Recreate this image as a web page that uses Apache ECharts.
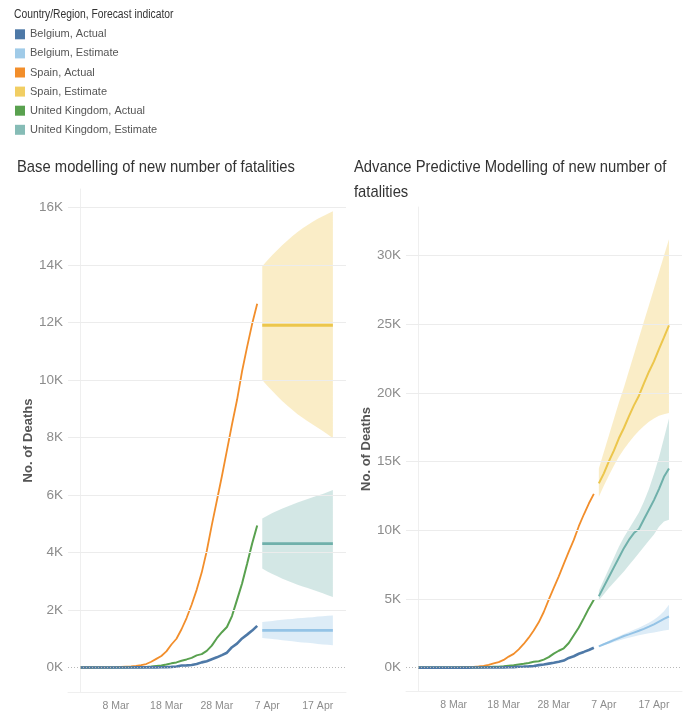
<!DOCTYPE html>
<html>
<head>
<meta charset="utf-8">
<script src="https://cdn.jsdelivr.net/npm/echarts@6/dist/echarts.min.js"></script>
<style>
  html, body { margin: 0; padding: 0; background: #fff; }
  #chart { width: 693px; height: 716px; }
</style>
</head>
<body>
<div id="chart"></div>
<script>
// Day index: 0 = 1 Mar 2020
const actualDays = [0, 1, 2, 3, 4, 5, 6, 7, 8, 9, 10, 11, 12, 13, 14, 15, 16, 17, 18, 19, 20,
  21, 22, 23, 24, 25, 26, 27, 28, 29, 30, 31, 32, 33, 34, 35];
const estimateDays = [36, 37, 38, 39, 40, 41, 42, 43, 44, 45, 46, 47, 48, 49, 50];

// Cumulative deaths, actual
const spainActual = [0, 0, 0, 1, 2, 3, 5, 10, 17, 28, 35, 54, 84, 120, 200, 300, 400, 560, 800, 1000,
  1330, 1720, 2180, 2700, 3300, 4050, 4950, 5800, 6650, 7550, 8450, 9300, 10300, 11150, 11950, 12650];
const ukActual = [0, 0, 0, 0, 0, 1, 2, 2, 3, 4, 6, 8, 8, 21, 35, 55, 71, 104, 144, 177,
  233, 281, 335, 422, 465, 578, 759, 1019, 1228, 1408, 1789, 2352, 2921, 3605, 4313, 4934];
const belgiumActual = [0, 0, 0, 0, 0, 0, 0, 0, 0, 0, 0, 3, 3, 3, 4, 5, 10, 14, 21, 37,
  67, 75, 88, 122, 178, 220, 289, 353, 431, 513, 705, 828, 1011, 1143, 1283, 1447];

// Base model estimates with interval bounds
const spainBase = [11900, 11900, 11900, 11900, 11900, 11900, 11900, 11900, 11900, 11900, 11900, 11900, 11900, 11900, 11900];
const spainBaseLow = [10000, 9800, 9610, 9430, 9260, 9100, 8950, 8810, 8680, 8560, 8450, 8340, 8220, 8100, 7970];
const spainBaseHigh = [13950, 14150, 14340, 14520, 14690, 14850, 15000, 15140, 15270, 15390, 15500, 15600, 15690, 15780, 15860];
const ukBase = [4310, 4310, 4310, 4310, 4310, 4310, 4310, 4310, 4310, 4310, 4310, 4310, 4310, 4310, 4310];
const ukBaseLow = [3440, 3340, 3250, 3170, 3090, 3020, 2950, 2880, 2820, 2760, 2700, 2640, 2580, 2510, 2450];
const ukBaseHigh = [5180, 5280, 5370, 5450, 5530, 5600, 5670, 5740, 5800, 5860, 5920, 5980, 6030, 6100, 6170];
const belgiumBase = [1290, 1290, 1290, 1290, 1290, 1290, 1290, 1290, 1290, 1290, 1290, 1290, 1290, 1290, 1290];
const belgiumBaseLow = [1030, 1010, 990, 970, 950, 930, 910, 890, 870, 860, 840, 820, 800, 790, 770];
const belgiumBaseHigh = [1580, 1600, 1620, 1640, 1660, 1680, 1690, 1710, 1720, 1740, 1750, 1770, 1780, 1800, 1810];

// Advanced model estimates with interval bounds
const spainAdv = [13420, 14150, 15020, 15800, 16700, 17450, 18300, 19100, 19800, 20700, 21550, 22300, 23200, 24050, 24930];
const spainAdvLow = [12450, 13250, 14000, 14700, 15350, 15900, 16400, 16850, 17250, 17600, 17900, 18150, 18350, 18450, 18550];
const spainAdvHigh = [14500, 15700, 16900, 18100, 19300, 20400, 21600, 22800, 24000, 25200, 26400, 27600, 28800, 30000, 31200];
const ukAdv = [5200, 5900, 6600, 7300, 8000, 8700, 9300, 9800, 10100, 10800, 11500, 12200, 13000, 13900, 14500];
const ukAdvLow = [4900, 5350, 5800, 6200, 6600, 7000, 7450, 7900, 8350, 8800, 9250, 9700, 10250, 10650, 10760];
const ukAdvHigh = [5600, 6400, 7200, 8000, 8800, 9500, 10100, 10700, 11300, 12100, 13000, 14100, 15300, 16700, 18150];
const belgiumAdv = [1550, 1700, 1850, 2000, 2150, 2300, 2420, 2550, 2680, 2820, 2980, 3150, 3350, 3550, 3720];
const belgiumAdvLow = [1500, 1620, 1740, 1860, 1980, 2080, 2180, 2270, 2350, 2430, 2500, 2560, 2630, 2700, 2760];
const belgiumAdvHigh = [1600, 1780, 1960, 2130, 2290, 2450, 2600, 2750, 2900, 3080, 3270, 3480, 3760, 4100, 4580];

// Axis ticks
const dateTicks = [7, 17, 27, 37, 47];
const baseTicks = [0, 2000, 4000, 6000, 8000, 10000, 12000, 14000, 16000];
const advTicks = [0, 5000, 10000, 15000, 20000, 25000, 30000];

const legendNames = ['Belgium, Actual', 'Belgium, Estimate', 'Spain, Actual', 'Spain, Estimate',
  'United Kingdom, Actual', 'United Kingdom, Estimate'];
const legendColors = ['#4e79a7', '#a0cbe8', '#f28e2b', '#f1ce63', '#59a14f', '#86bcb6'];

const FONT = '"Liberation Sans", Arial, sans-serif';
const MONTHS = ['Jan', 'Feb', 'Mar', 'Apr', 'May'];

function dayLabel(d) {
  const dt = new Date(2020, 2, 1 + Math.round(d));
  return dt.getDate() + ' ' + MONTHS[dt.getMonth()];
}
function pairs(days, vals) {
  return days.map((d, i) => [d, vals[i]]);
}

// Light horizontal reference lines at each tick; the zero line is dotted
function gridLines(idx, ticks) {
  return {
    type: 'line', name: 'grid' + idx, xAxisIndex: idx, yAxisIndex: idx, data: [],
    silent: true, z: 1,
    markLine: {
      silent: true, symbol: 'none', label: { show: false }, animation: false,
      data: ticks.map(v => ({
        yAxis: v,
        lineStyle: v === 0
          ? { color: '#b8b8b8', type: [1, 2], width: 1 }
          : { color: '#ececec', type: 'solid', width: 1 }
      }))
    }
  };
}

// Shaded prediction interval between low and high bounds
function band(idx, key, low, high, fill) {
  return {
    type: 'custom', name: key, xAxisIndex: idx, yAxisIndex: idx, silent: true, z: 2,
    data: estimateDays.map((d, i) => [d, low[i], high[i]]),
    encode: { x: 0, y: [1, 2] },
    renderItem: (params, api) => {
      if (params.dataIndex !== 0) return null;
      const pts = [];
      estimateDays.forEach((d, i) => pts.push(api.coord([d, high[i]])));
      for (let i = estimateDays.length - 1; i >= 0; i--) pts.push(api.coord([estimateDays[i], low[i]]));
      return { type: 'polygon', shape: { points: pts }, style: { fill: fill, opacity: 0.36 } };
    }
  };
}

function line(idx, name, days, vals, color, width) {
  return {
    type: 'line', name: name, xAxisIndex: idx, yAxisIndex: idx,
    data: pairs(days, vals), symbol: 'none', z: 3,
    itemStyle: { color: legendColors[legendNames.indexOf(name)] },
    lineStyle: { color: color, width: width }
  };
}

function xAxis(idx) {
  return {
    type: 'value', gridIndex: idx, min: -2.5, max: 52.6,
    axisLine: { show: true, onZero: false, lineStyle: { color: '#efefef' } },
    axisTick: { show: false },
    splitLine: { show: false },
    axisLabel: {
      customValues: dateTicks, formatter: dayLabel,
      color: '#8c8c8c', fontSize: 10.5, fontFamily: FONT, margin: 9
    }
  };
}

function yAxis(idx, min, max, ticks, gap) {
  return {
    type: 'value', gridIndex: idx, min: min, max: max,
    name: 'No. of Deaths', nameLocation: 'middle', nameRotate: 90, nameGap: gap,
    nameTextStyle: { fontFamily: FONT, fontWeight: 'bold', fontSize: 13, color: '#555' },
    axisLine: { show: true, lineStyle: { color: '#efefef' } },
    axisTick: { show: false },
    splitLine: { show: false },
    axisLabel: {
      customValues: ticks, formatter: v => (v / 1000) + 'K',
      color: '#8c8c8c', fontSize: 13.5, fontFamily: FONT, margin: 5, padding: [4, 0, 0, 0]
    }
  };
}

const option = {
  animation: false,
  backgroundColor: '#fff',
  graphic: [
    {
      type: 'text', x: 14, y: 15, scaleX: 0.86, silent: true,
      style: { text: 'Country/Region, Forecast indicator', fontFamily: FONT, fontSize: 12,
        fill: '#333', verticalAlign: 'middle' }
    },
    {
      type: 'text', x: 17, y: 167, scaleX: 0.87, silent: true,
      style: { text: 'Base modelling of new number of fatalities', fontFamily: FONT, fontSize: 17,
        fill: '#333', verticalAlign: 'middle' }
    },
    {
      type: 'text', x: 354, y: 154.5, scaleX: 0.87, silent: true,
      style: { text: 'Advance Predictive Modelling of new number of\nfatalities', fontFamily: FONT,
        fontSize: 17, lineHeight: 25, fill: '#333', verticalAlign: 'top' }
    }
  ],
  legend: {
    orient: 'vertical', left: 15, top: 28.3, padding: 0,
    itemWidth: 10, itemHeight: 10, itemGap: 7.1, icon: 'rect', selectedMode: false,
    textStyle: { fontFamily: FONT, fontSize: 11, color: '#555', lineHeight: 12 },
    data: legendNames.map((n, i) => ({ name: n, itemStyle: { color: legendColors[i], borderWidth: 0 } }))
  },
  grid: [
    { left: 68, top: 189, width: 278, height: 503 },
    { left: 406, top: 207, width: 276, height: 484 }
  ],
  xAxis: [xAxis(0), xAxis(1)],
  yAxis: [
    yAxis(0, -852, 16638, baseTicks, 32),
    yAxis(1, -1704, 33547, advTicks, 32)
  ],
  series: [
    gridLines(0, baseTicks),
    gridLines(1, advTicks),

    // Base modelling panel
    band(0, 'spainBase', spainBaseLow, spainBaseHigh, '#f1ce63'),
    band(0, 'ukBase', ukBaseLow, ukBaseHigh, '#86bcb6'),
    band(0, 'belgiumBase', belgiumBaseLow, belgiumBaseHigh, '#a0cbe8'),
    line(0, 'Spain, Estimate', estimateDays, spainBase, '#ecc64c', 2.8),
    line(0, 'United Kingdom, Estimate', estimateDays, ukBase, '#6fb0aa', 2.8),
    line(0, 'Belgium, Estimate', estimateDays, belgiumBase, '#94c3e6', 2.8),
    line(0, 'Spain, Actual', actualDays, spainActual, '#f28e2b', 1.8),
    line(0, 'United Kingdom, Actual', actualDays, ukActual, '#59a14f', 2),
    line(0, 'Belgium, Actual', actualDays, belgiumActual, '#4e79a7', 2.6),

    // Advanced modelling panel
    band(1, 'spainAdv', spainAdvLow, spainAdvHigh, '#f1ce63'),
    band(1, 'ukAdv', ukAdvLow, ukAdvHigh, '#86bcb6'),
    band(1, 'belgiumAdv', belgiumAdvLow, belgiumAdvHigh, '#a0cbe8'),
    line(1, 'Spain, Estimate', estimateDays, spainAdv, '#ecc64c', 2),
    line(1, 'United Kingdom, Estimate', estimateDays, ukAdv, '#6fb0aa', 2),
    line(1, 'Belgium, Estimate', estimateDays, belgiumAdv, '#94c3e6', 2),
    line(1, 'Spain, Actual', actualDays, spainActual, '#f28e2b', 1.8),
    line(1, 'United Kingdom, Actual', actualDays, ukActual, '#59a14f', 2),
    line(1, 'Belgium, Actual', actualDays, belgiumActual, '#4e79a7', 2.6)
  ]
};

const chart = echarts.init(document.getElementById('chart'), null, { renderer: 'canvas' });
chart.setOption(option);
</script>
</body>
</html>
